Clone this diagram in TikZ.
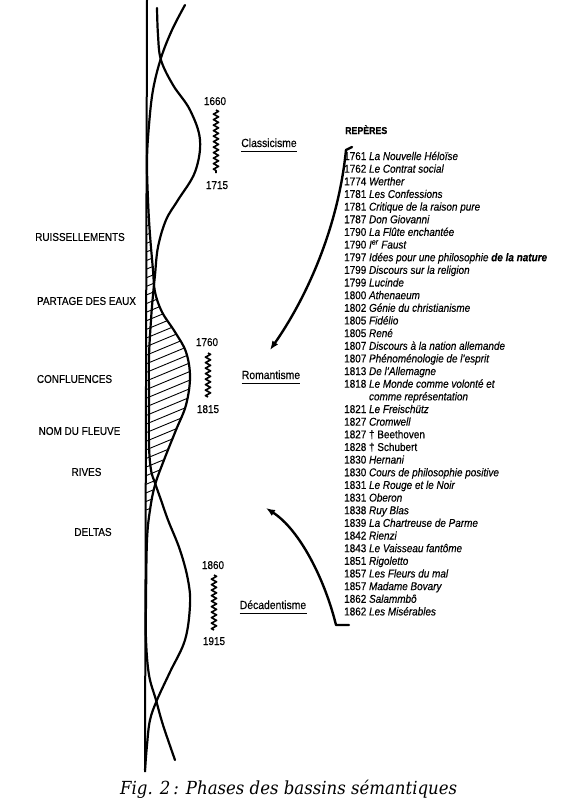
\documentclass[tikz,border=0pt]{standalone}
\usepackage{fontspec}
\usetikzlibrary{arrows.meta,decorations.pathmorphing}
\newfontfamily\condf[FakeStretch=0.88, FakeBold=0.35]{Liberation Sans}
\newfontfamily\capf[FakeStretch=0.92]{DejaVu Serif}
\tikzset{
  lbl/.style={font={\condf\fontsize{11.3}{12.65}\selectfont}, inner sep=0pt},
  lst/.style={lbl, anchor=base west},
  datelbl/.style={lbl, anchor=base},
  perlbl/.style={font={\condf\fontsize{11.8}{13}\selectfont}, inner sep=0pt, anchor=base},
  curve/.style={line width=2.2pt, line cap=round},
  axisline/.style={line width=2pt},
  hatch/.style={line width=0.9pt},
  squig/.style={line width=1.6pt, line join=round, decorate,
     decoration={zigzag, segment length=5.5pt, amplitude=2.6pt}},
  uline/.style={line width=1.7pt},
  arr/.style={line width=2.4pt, line cap=round, line join=round,
     -{Latex[length=9pt,width=7pt]}},
}
\begin{document}
\begin{tikzpicture}[x=1pt,y=-1pt]
\useasboundingbox (0,0) rectangle (566,807);

% hatched region
\begin{scope}
\clip (146,170) -- plot[smooth, tension=0.6] coordinates {(147,170) (148,200) (150,235) (153,270) (155,292) (162,312) (175,332) (186,352) (190,377) (186,405) (176,430) (164,460) (155,485) (150,510)} -- (146,510) -- cycle;
\foreach \k in {0,...,46} \draw[hatch] (140,{160+8.6*\k}) -- (205,{160+8.6*\k-27});
\end{scope}

% axis
\coordinate (axtop) at (147,0);
\coordinate (axbot) at (145,772);
\draw[axisline] (axtop) -- (axbot);

% two interlaced curves
\draw[curve] plot[smooth, tension=0.6] coordinates {(157,8) (158,35) (161,60) (173,85) (190,110) (200,140) (195,172) (178,200) (166,220) (158,247) (155,275) (153,295) (151,320) (149,357) (149,400) (149,445) (151,470) (155,483) (161,500) (168,520) (180,550) (188,580) (190,605) (185,640) (170,672) (157,700) (150,720) (147,745) (145,770)};
\draw[curve] plot[smooth, tension=0.6] coordinates {(185,5) (172,30) (161,58) (153,90) (149,125) (147,160) (148,200) (150,235) (153,270) (155,292) (162,312) (175,332) (186,352) (190,377) (186,405) (176,430) (164,460) (155,485) (150,510) (147,540) (146,600) (146,640) (149,675) (156,700) (163,725) (175,760)};

% left labels
\node[lbl] (l1) at (80,237) {RUISSELLEMENTS};
\node[lbl] (l2) at (86.5,301) {PARTAGE DES EAUX};
\node[lbl] (l3) at (74.5,379) {CONFLUENCES};
\node[lbl] (l4) at (79.5,431) {NOM DU FLEUVE};
\node[lbl] (l5) at (86.5,472) {RIVES};
\node[lbl] (l6) at (93,532) {DELTAS};

% dates and squiggles
\node[datelbl] (d1660) at (215,105) {1660};
\node[datelbl] (d1715) at (217,189) {1715};
\node[datelbl] (d1760) at (207,346) {1760};
\node[datelbl] (d1815) at (208,413) {1815};
\node[datelbl] (d1860) at (213,569) {1860};
\node[datelbl] (d1915) at (214,645) {1915};
\coordinate (s1a) at (216,110); \coordinate (s1b) at (216,173);
\coordinate (s2a) at (208,353); \coordinate (s2b) at (208,397);
\coordinate (s3a) at (214,575); \coordinate (s3b) at (214,630);
\draw[squig] (s1a) -- (s1b);
\draw[squig] (s2a) -- (s2b);
\draw[squig] (s3a) -- (s3b);

% period labels
\node[perlbl] (cla) at (269,147) {Classicisme};
\node[perlbl] (rom) at (271,379) {Romantisme};
\node[perlbl] (dec) at (273,609) {Décadentisme};
\draw[uline] ([yshift=-4.5pt]cla.base west) -- ([yshift=-4.5pt]cla.base east);
\draw[uline] ([yshift=-4.5pt]rom.base west) -- ([yshift=-4.5pt]rom.base east);
\draw[uline] ([yshift=-4.5pt]dec.base west) -- ([yshift=-4.5pt,xshift=1pt]dec.base east);

% reperes
\node[lbl, anchor=base west, font={\condf\bfseries\fontsize{10}{12}\selectfont}] (rep) at (345,134) {REPÈRES};
\foreach \t [count=\i from 0] in {
 {1761 \textit{La Nouvelle Héloïse}},
 {1762 \textit{Le Contrat social}},
 {1774 \textit{Werther}},
 {1781 \textit{Les Confessions}},
 {1781 \textit{Critique de la raison pure}},
 {1787 \textit{Don Giovanni}},
 {1790 \textit{La Flûte enchantée}},
 {1790 \textit{I\textsuperscript{er} Faust}},
 {1797 \textit{Idées pour une philosophie \textbf{de la nature}}},
 {1799 \textit{Discours sur la religion}},
 {1799 \textit{Lucinde}},
 {1800 \textit{Athenaeum}},
 {1802 \textit{Génie du christianisme}},
 {1805 \textit{Fidélio}},
 {1805 \textit{René}},
 {1807 \textit{Discours à la nation allemande}},
 {1807 \textit{Phénoménologie de l’esprit}},
 {1813 \textit{De l’Allemagne}},
 {1818 \textit{Le Monde comme volonté et}},
 {\phantom{1818} \textit{comme représentation}},
 {1821 \textit{Le Freischütz}},
 {1827 \textit{Cromwell}},
 {1827 † Beethoven},
 {1828 † Schubert},
 {1830 \textit{Hernani}},
 {1830 \textit{Cours de philosophie positive}},
 {1831 \textit{Le Rouge et le Noir}},
 {1831 \textit{Oberon}},
 {1838 \textit{Ruy Blas}},
 {1839 \textit{La Chartreuse de Parme}},
 {1842 \textit{Rienzi}},
 {1843 \textit{Le Vaisseau fantôme}},
 {1851 \textit{Rigoletto}},
 {1857 \textit{Les Fleurs du mal}},
 {1857 \textit{Madame Bovary}},
 {1862 \textit{Salammbô}},
 {1862 \textit{Les Misérables}}}
 \node[lst] (L\i) at (344,{160+12.65*\i}) {\t};

% arrows
\coordinate (a1t) at (352,147);
\coordinate (a1s) at (346,150);
\coordinate (a1e) at (270,350);
\draw[arr] (a1t) -- (a1s) .. controls (338,230) and (305,300) .. (a1e);
\coordinate (a2t) at (349,625);
\coordinate (a2s) at (336,625);
\coordinate (a2e) at (266,508);
\draw[arr] (a2t) -- (a2s) .. controls (325,580) and (300,530) .. (a2e);

% caption
\node[inner sep=0pt, anchor=base west, font={\capf\itshape\fontsize{18}{22}\selectfont}] (cap) at (120,794) {Fig. 2\,: Phases des bassins sémantiques};
\end{tikzpicture}
\end{document}
